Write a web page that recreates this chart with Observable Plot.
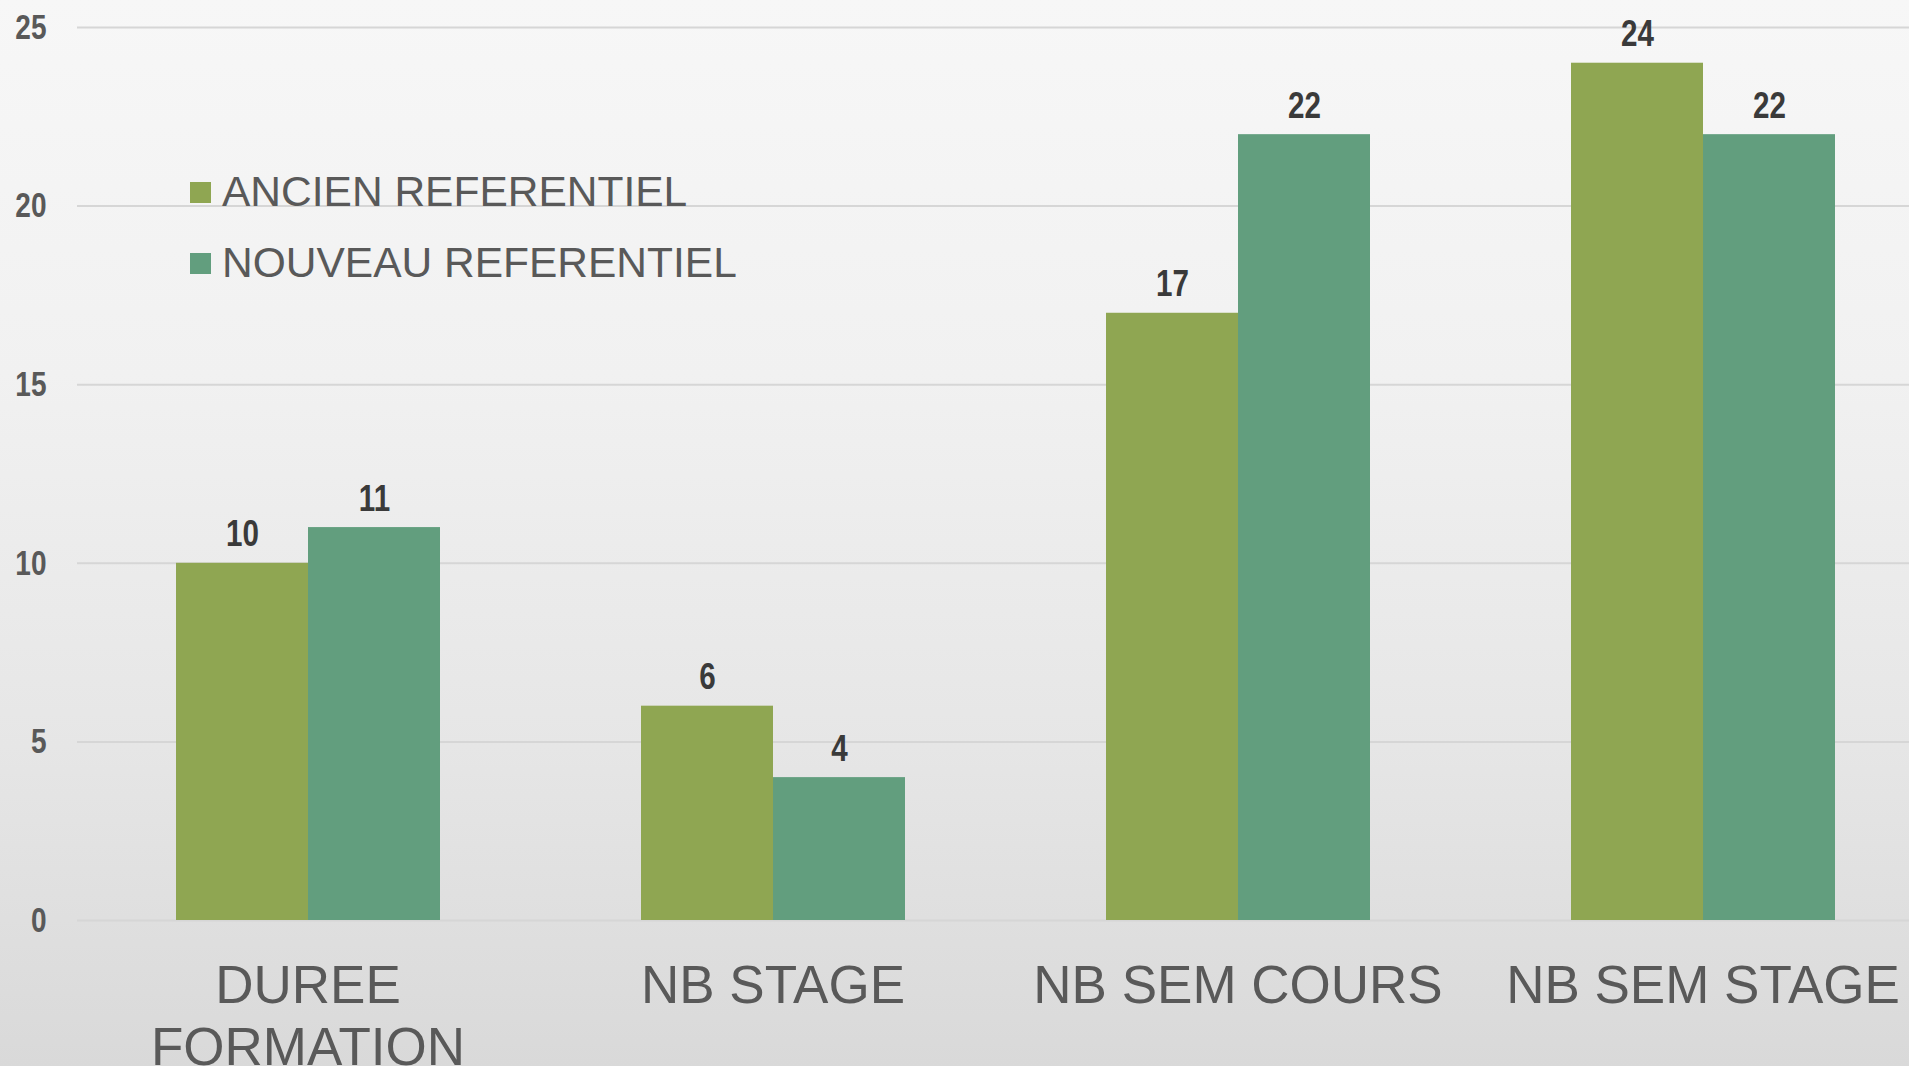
<!DOCTYPE html>
<html>
<head>
<meta charset="utf-8">
<script src="https://cdn.jsdelivr.net/npm/d3@7"></script>
<script src="https://cdn.jsdelivr.net/npm/@observablehq/plot@0.6"></script>
<style>
  html, body { margin: 0; padding: 0; }
  #wrap {
    position: relative; width: 1909px; height: 1066px; overflow: hidden;
    background: linear-gradient(180deg, #f7f7f7 0%, #f1f1f1 35%, #e6e6e6 70%, #d9d9d9 100%);
  }
  #wrap svg { position: absolute; left: 0; top: 0; }
  #legend {
    position: absolute; left: 190px; top: 157px;
    font-family: "Liberation Sans", Arial, sans-serif; font-size: 42.5px; color: #595959;
  }
  #legend .row { display: flex; align-items: center; height: 71px; }
  #legend .sw { width: 21px; height: 21px; margin-right: 11px; }
  #legend .lb { line-height: 1; }
</style>
</head>
<body>
<div id="wrap"><div id="legend"></div></div>
<script>
const categories = ["DUREE FORMATION", "NB STAGE", "NB SEM COURS", "NB SEM STAGE"];
const series = ["ANCIEN REFERENTIEL", "NOUVEAU REFERENTIEL"];
const ancien = [10, 6, 17, 24];
const nouveau = [11, 4, 22, 22];
const colors = ["#8FA652", "#629E7E"];
const yTicks = [0, 5, 10, 15, 20, 25];

const data = categories.flatMap((c, i) => [
  {cat: c, s: series[0], v: ancien[i]},
  {cat: c, s: series[1], v: nouveau[i]}
]);

const numFont = '"Liberation Sans", Arial, sans-serif';
const frame = {
  width: 1934, height: 1066,
  marginLeft: 77, marginRight: 0.7, marginTop: 27, marginBottom: 146
};

// Background layer: gridlines and y tick labels spanning the whole frame
const base = Plot.plot({
  ...frame,
  style: {background: "transparent", maxWidth: "none", overflow: "visible"},
  x: {axis: null},
  y: {domain: [0, 25], label: null, axis: null},
  marks: [
    Plot.ruleY(yTicks, {stroke: "#d6d6d6", strokeWidth: 2}),
    Plot.text(yTicks, {
      y: d => d, text: d => String(d), frameAnchor: "left", dx: -31, textAnchor: "end",
      fontSize: 35, fontWeight: "bold", fontFamily: numFont, fill: "#595959"
    })
  ]
});

// Bars layer
const chart = Plot.plot({
  ...frame,
  style: {background: "transparent", maxWidth: "none", overflow: "visible"},
  fx: {domain: categories, paddingInner: 0.43, paddingOuter: 0.2088, label: null, axis: null},
  x: {domain: series, padding: 0, axis: null},
  y: {domain: [0, 25], label: null, axis: null},
  color: {domain: series, range: colors},
  marks: [
    Plot.barY(data, {fx: "cat", x: "s", y: "v", fill: "s", inset: 0}),
    Plot.text(data, {
      fx: "cat", x: "s", y: "v", text: d => String(d.v), dy: -17, lineAnchor: "bottom",
      fontSize: 37, fontWeight: "bold", fontFamily: numFont, fill: "#3a3a3a"
    }),
    Plot.axisFx({
      anchor: "bottom", domain: categories, tickSize: 0, tickPadding: 38, label: null,
      fontSize: 53, fontFamily: '"Liberation Sans", Arial, sans-serif', fill: "#595959",
      lineWidth: 8.6, lineHeight: 1.17
    })
  ]
});

const wrap = document.getElementById("wrap");
wrap.insertBefore(chart, wrap.firstChild);
wrap.insertBefore(base, wrap.firstChild);

// Condense the bold numeric labels (the reference uses a condensed display face)
[base, chart].forEach(svg => {
  d3.select(svg).selectAll('g[font-weight="bold"] text').each(function() {
    const w = this.getComputedTextLength();
    this.setAttribute("textLength", w * 0.8);
    this.setAttribute("lengthAdjust", "spacingAndGlyphs");
  });
});

const legend = document.getElementById("legend");
series.forEach((s, i) => {
  const row = document.createElement("div");
  row.className = "row";
  const sw = document.createElement("div");
  sw.className = "sw";
  sw.style.background = colors[i];
  const lb = document.createElement("div");
  lb.className = "lb";
  lb.textContent = s;
  row.appendChild(sw);
  row.appendChild(lb);
  legend.appendChild(row);
});
</script>
</body>
</html>
